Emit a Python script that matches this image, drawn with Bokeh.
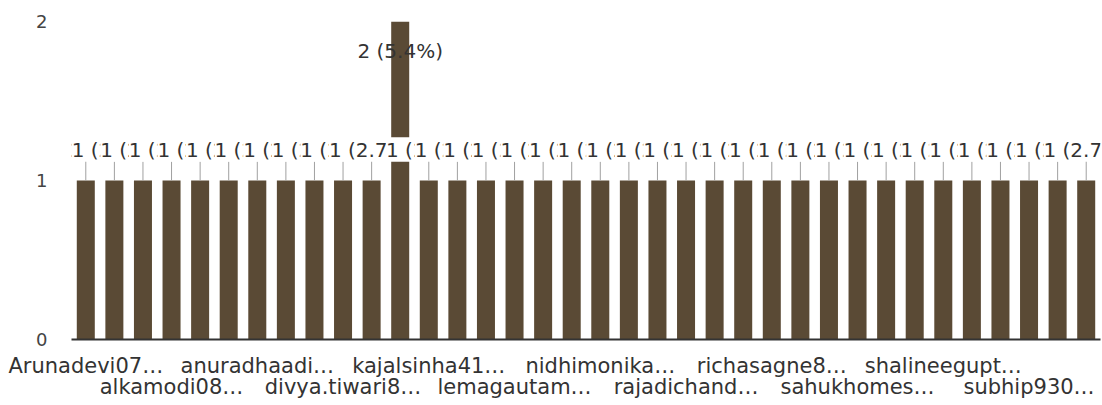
from bokeh.plotting import figure
from bokeh.models import (ColumnDataSource, Range1d, CategoricalAxis, FixedTicker,
                          LabelSet, CategoricalTicker, CustomJSTickFormatter)
from bokeh.core.properties import value
from bokeh.embed import file_html
from bokeh.resources import INLINE

# ---- data ----
counts = [1, 1, 1, 1, 1, 1, 1, 1, 1, 1, 1, 2,
          1, 1, 1, 1, 1, 1, 1, 1, 1, 1, 1, 1,
          1, 1, 1, 1, 1, 1, 1, 1, 1, 1, 1, 1]
categories = ["r%02d" % (i + 1) for i in range(len(counts))]
shown_labels = ["Arunadevi07…", "alkamodi08…", "anuradhaadi…", "divya.tiwari8…",
                "kajalsinha41…", "lemagautam…", "nidhimonika…", "rajadichand…",
                "richasagne8…", "sahukhomes…", "shalineegupt…", "subhip930…"]
label_step = 3
y_ticks = [0, 1, 2]

BAR_COLOR = "#5a4a35"
TEXT_COLOR = "#333333"
FONT = "DejaVu Sans"

total = sum(counts)
peak = max(counts)
ann = ["%d (%.1f%%)" % (c, 100.0 * c / total) for c in counts]

above = dict(cat=[], count=[], label=[], stem_top=[])
inside = dict(cat=[], count=[], label=[])
for cat, c, a in zip(categories, counts, ann):
    if c < peak:
        above["cat"].append(cat)
        above["count"].append(c)
        above["label"].append(a)
        above["stem_top"].append(c + 0.145)
    else:
        inside["cat"].append(cat)
        inside["count"].append(c)
        inside["label"].append(a)

src = ColumnDataSource(dict(cat=categories, count=counts))
src_above = ColumnDataSource(above)
src_inside = ColumnDataSource(inside)

p = figure(x_range=categories, y_range=Range1d(0, 2),
           width=1102, height=405, output_backend="svg", toolbar_location=None,
           min_border_left=71, min_border_right=2, min_border_top=21, min_border_bottom=66)
p.outline_line_color = None
p.xgrid.grid_line_color = None
p.ygrid.grid_line_color = None
p.x_range.range_padding = 0

p.vbar(x="cat", top="count", width=0.63, source=src, fill_color=BAR_COLOR, line_color=None)
p.segment(x0="cat", y0="count", x1="cat", y1="stem_top", source=src_above,
          line_color="#a0a0a0", line_width=1)

p.add_layout(LabelSet(x="cat", y="count", text="label", source=src_above,
                      y_offset=31, text_align="center", text_baseline="middle",
                      text_font=value(FONT), text_font_size=value("20px"),
                      text_color=TEXT_COLOR, background_fill_color="white"))
p.add_layout(LabelSet(x="cat", y="count", text="label", source=src_inside,
                      y_offset=-29, text_align="center", text_baseline="middle",
                      text_font=value(FONT), text_font_size=value("20px"),
                      text_color=TEXT_COLOR))

# y axis
ya = p.yaxis[0]
ya.ticker = FixedTicker(ticks=y_ticks)
ya.axis_line_color = None
ya.major_tick_line_color = None
ya.minor_tick_line_color = None
ya.major_tick_out = 0
ya.major_tick_in = 0
ya.major_label_standoff = 24
ya.major_label_text_font = FONT
ya.major_label_text_font_size = "18px"
ya.major_label_text_color = "#444444"

# x axes: two staggered rows of labels
row1 = {}
row2 = {}
for k, name in enumerate(shown_labels):
    cat = categories[k * label_step]
    (row1 if k % 2 == 0 else row2)[cat] = name

code = "const s = names[tick]; return (s === undefined) ? '' : s;"

xa = p.xaxis[0]
xa.formatter = CustomJSTickFormatter(args=dict(names=row1), code=code)
xa.axis_line_color = "#333333"
xa.axis_line_width = 2
xa.major_tick_line_color = None
xa.major_tick_out = 0
xa.major_tick_in = 0
xa.major_label_standoff = 14
xa.major_label_text_font = FONT
xa.major_label_text_font_size = "21px"
xa.major_label_text_color = TEXT_COLOR

xa2 = CategoricalAxis(ticker=CategoricalTicker())
xa2.formatter = CustomJSTickFormatter(args=dict(names=row2), code=code)
xa2.axis_line_color = None
xa2.major_tick_line_color = None
xa2.major_tick_out = 0
xa2.major_tick_in = 0
xa2.major_label_standoff = -6
xa2.major_label_text_font = FONT
xa2.major_label_text_font_size = "21px"
xa2.major_label_text_color = TEXT_COLOR
p.add_layout(xa2, "below")

open("out.html", "w").write(file_html(p, INLINE))
